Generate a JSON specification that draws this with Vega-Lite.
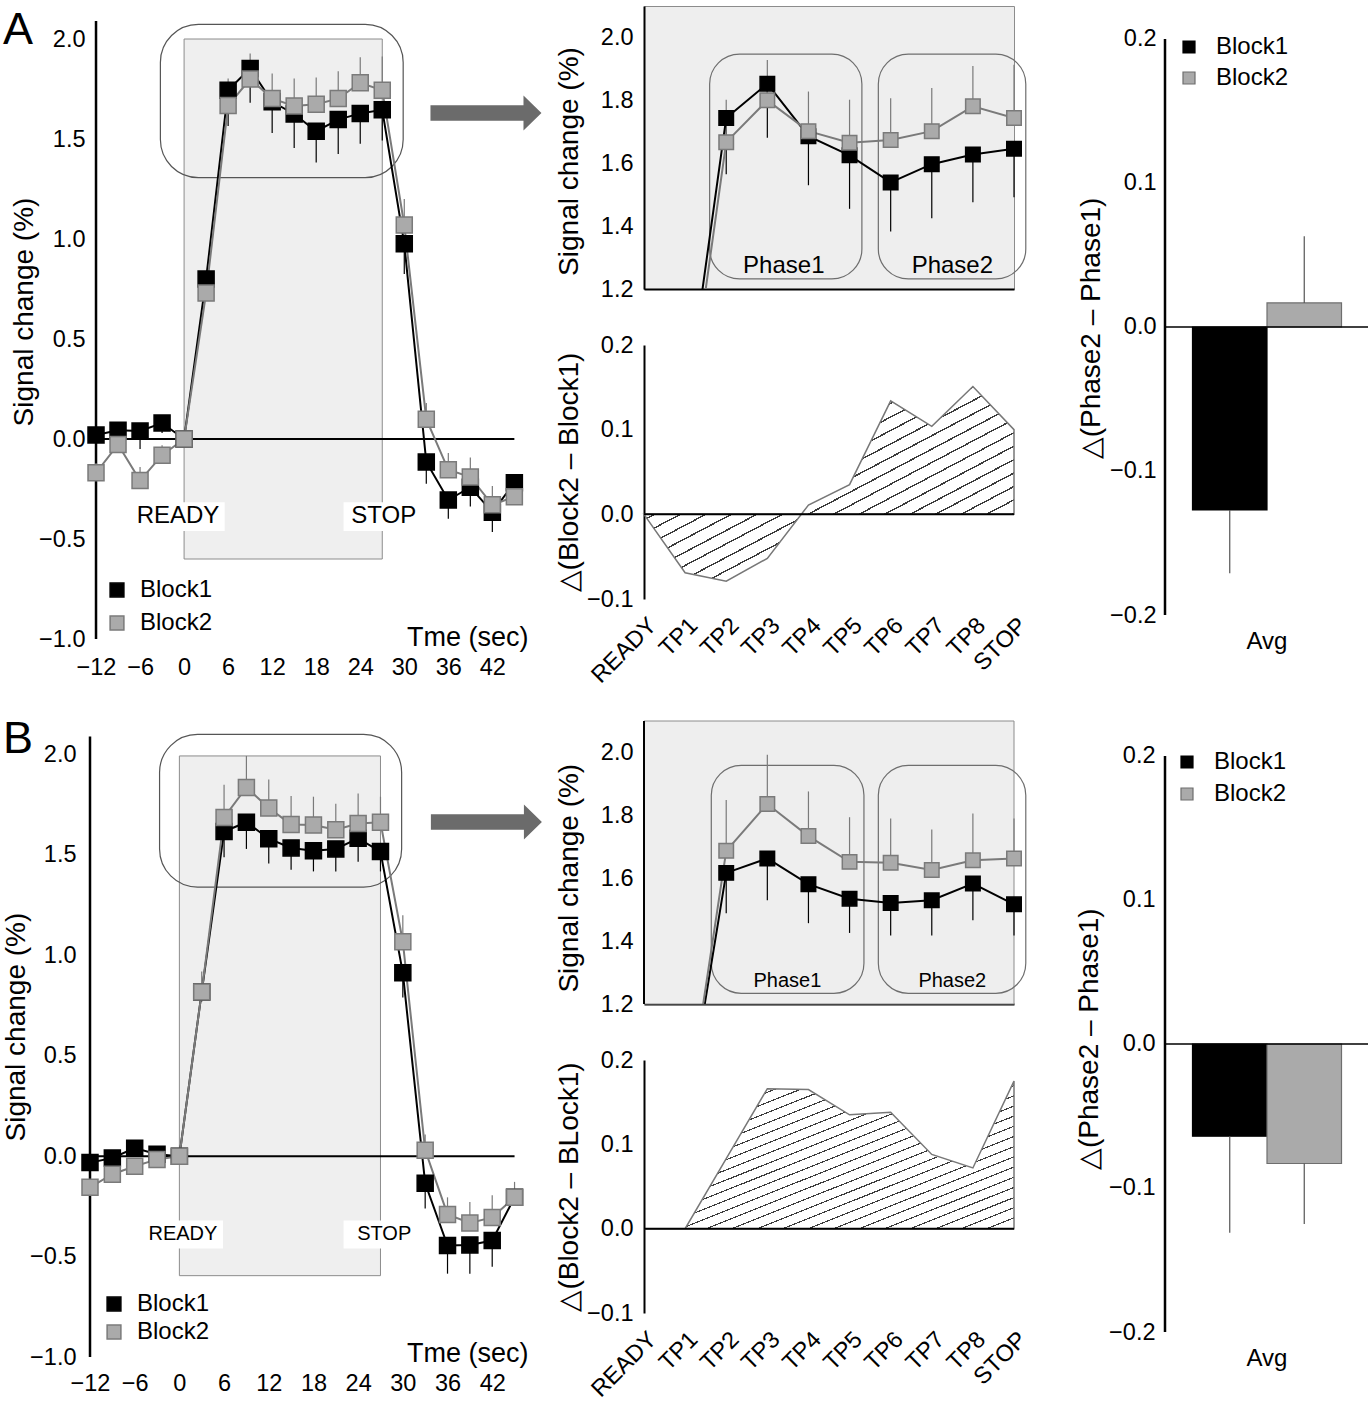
{
"$schema": "https://vega.github.io/schema/vega-lite/v6.json",
"padding": {"left": 2, "top": 5, "right": 0, "bottom": 0},
"autosize": {"type": "pad"},
"background": "white",
"spacing": 12,
"config": {
  "font": "Liberation Sans",
  "view": {"stroke": null},
  "axis": {"labelFont": "Liberation Sans", "titleFont": "Liberation Sans", "labelColor": "#000", "titleColor": "#000", "titleFontWeight": "normal", "labelFontSize": 23.5, "titleFontSize": 28, "grid": false, "ticks": false, "domain": false, "labelFlush": false, "labelOverlap": false},
  "legend": {"labelFont": "Liberation Sans", "labelColor": "#000", "labelFontSize": 24},
  "title": {"font": "Liberation Sans"},
  "text": {"font": "Liberation Sans"},
  "area": {"fill": {"gradient":"linear","x1":0,"y1":0,"x2":1,"y2":1,"stops":[
{"offset":0,"color":"#ffffff"},{"offset":0.0303,"color":"#ffffff"},{"offset":0.0303,"color":"#3c3c3c"},{"offset":0.0345,"color":"#3c3c3c"},
{"offset":0.0345,"color":"#ffffff"},{"offset":0.0648,"color":"#ffffff"},{"offset":0.0648,"color":"#3c3c3c"},{"offset":0.069,"color":"#3c3c3c"},
{"offset":0.069,"color":"#ffffff"},{"offset":0.0993,"color":"#ffffff"},{"offset":0.0993,"color":"#3c3c3c"},{"offset":0.1034,"color":"#3c3c3c"},
{"offset":0.1034,"color":"#ffffff"},{"offset":0.1338,"color":"#ffffff"},{"offset":0.1338,"color":"#3c3c3c"},{"offset":0.1379,"color":"#3c3c3c"},
{"offset":0.1379,"color":"#ffffff"},{"offset":0.1683,"color":"#ffffff"},{"offset":0.1683,"color":"#3c3c3c"},{"offset":0.1724,"color":"#3c3c3c"},
{"offset":0.1724,"color":"#ffffff"},{"offset":0.2028,"color":"#ffffff"},{"offset":0.2028,"color":"#3c3c3c"},{"offset":0.2069,"color":"#3c3c3c"},
{"offset":0.2069,"color":"#ffffff"},{"offset":0.2372,"color":"#ffffff"},{"offset":0.2372,"color":"#3c3c3c"},{"offset":0.2414,"color":"#3c3c3c"},
{"offset":0.2414,"color":"#ffffff"},{"offset":0.2717,"color":"#ffffff"},{"offset":0.2717,"color":"#3c3c3c"},{"offset":0.2759,"color":"#3c3c3c"},
{"offset":0.2759,"color":"#ffffff"},{"offset":0.3062,"color":"#ffffff"},{"offset":0.3062,"color":"#3c3c3c"},{"offset":0.3103,"color":"#3c3c3c"},
{"offset":0.3103,"color":"#ffffff"},{"offset":0.3407,"color":"#ffffff"},{"offset":0.3407,"color":"#3c3c3c"},{"offset":0.3448,"color":"#3c3c3c"},
{"offset":0.3448,"color":"#ffffff"},{"offset":0.3752,"color":"#ffffff"},{"offset":0.3752,"color":"#3c3c3c"},{"offset":0.3793,"color":"#3c3c3c"},
{"offset":0.3793,"color":"#ffffff"},{"offset":0.4097,"color":"#ffffff"},{"offset":0.4097,"color":"#3c3c3c"},{"offset":0.4138,"color":"#3c3c3c"},
{"offset":0.4138,"color":"#ffffff"},{"offset":0.4441,"color":"#ffffff"},{"offset":0.4441,"color":"#3c3c3c"},{"offset":0.4483,"color":"#3c3c3c"},
{"offset":0.4483,"color":"#ffffff"},{"offset":0.4786,"color":"#ffffff"},{"offset":0.4786,"color":"#3c3c3c"},{"offset":0.4828,"color":"#3c3c3c"},
{"offset":0.4828,"color":"#ffffff"},{"offset":0.5131,"color":"#ffffff"},{"offset":0.5131,"color":"#3c3c3c"},{"offset":0.5172,"color":"#3c3c3c"},
{"offset":0.5172,"color":"#ffffff"},{"offset":0.5476,"color":"#ffffff"},{"offset":0.5476,"color":"#3c3c3c"},{"offset":0.5517,"color":"#3c3c3c"},
{"offset":0.5517,"color":"#ffffff"},{"offset":0.5821,"color":"#ffffff"},{"offset":0.5821,"color":"#3c3c3c"},{"offset":0.5862,"color":"#3c3c3c"},
{"offset":0.5862,"color":"#ffffff"},{"offset":0.6166,"color":"#ffffff"},{"offset":0.6166,"color":"#3c3c3c"},{"offset":0.6207,"color":"#3c3c3c"},
{"offset":0.6207,"color":"#ffffff"},{"offset":0.651,"color":"#ffffff"},{"offset":0.651,"color":"#3c3c3c"},{"offset":0.6552,"color":"#3c3c3c"},
{"offset":0.6552,"color":"#ffffff"},{"offset":0.6855,"color":"#ffffff"},{"offset":0.6855,"color":"#3c3c3c"},{"offset":0.6897,"color":"#3c3c3c"},
{"offset":0.6897,"color":"#ffffff"},{"offset":0.72,"color":"#ffffff"},{"offset":0.72,"color":"#3c3c3c"},{"offset":0.7241,"color":"#3c3c3c"},
{"offset":0.7241,"color":"#ffffff"},{"offset":0.7545,"color":"#ffffff"},{"offset":0.7545,"color":"#3c3c3c"},{"offset":0.7586,"color":"#3c3c3c"},
{"offset":0.7586,"color":"#ffffff"},{"offset":0.789,"color":"#ffffff"},{"offset":0.789,"color":"#3c3c3c"},{"offset":0.7931,"color":"#3c3c3c"},
{"offset":0.7931,"color":"#ffffff"},{"offset":0.8234,"color":"#ffffff"},{"offset":0.8234,"color":"#3c3c3c"},{"offset":0.8276,"color":"#3c3c3c"},
{"offset":0.8276,"color":"#ffffff"},{"offset":0.8579,"color":"#ffffff"},{"offset":0.8579,"color":"#3c3c3c"},{"offset":0.8621,"color":"#3c3c3c"},
{"offset":0.8621,"color":"#ffffff"},{"offset":0.8924,"color":"#ffffff"},{"offset":0.8924,"color":"#3c3c3c"},{"offset":0.8966,"color":"#3c3c3c"},
{"offset":0.8966,"color":"#ffffff"},{"offset":0.9269,"color":"#ffffff"},{"offset":0.9269,"color":"#3c3c3c"},{"offset":0.931,"color":"#3c3c3c"},
{"offset":0.931,"color":"#ffffff"},{"offset":0.9614,"color":"#ffffff"},{"offset":0.9614,"color":"#3c3c3c"},{"offset":0.9655,"color":"#3c3c3c"},
{"offset":0.9655,"color":"#ffffff"},{"offset":0.9959,"color":"#ffffff"},{"offset":0.9959,"color":"#3c3c3c"},{"offset":1,"color":"#3c3c3c"}
]}}
},
"datasets": {
  "tsA": [
    {"block":"Block1","t":-12,"v":0.02,"e":-0.06},
    {"block":"Block1","t":-9,"v":0.044,"e":0.01},
    {"block":"Block1","t":-6,"v":0.04,"e":-0.05},
    {"block":"Block1","t":-3,"v":0.08,"e":0.03},
    {"block":"Block1","t":0,"v":0,"e":0},
    {"block":"Block1","t":3,"v":0.8,"e":0.76},
    {"block":"Block1","t":6,"v":1.744,"e":1.565},
    {"block":"Block1","t":9,"v":1.853,"e":1.681},
    {"block":"Block1","t":12,"v":1.686,"e":1.53},
    {"block":"Block1","t":15,"v":1.625,"e":1.455},
    {"block":"Block1","t":18,"v":1.539,"e":1.383},
    {"block":"Block1","t":21,"v":1.597,"e":1.425},
    {"block":"Block1","t":24,"v":1.628,"e":1.476},
    {"block":"Block1","t":27,"v":1.646,"e":1.492},
    {"block":"Block1","t":30,"v":0.976,"e":0.825},
    {"block":"Block1","t":33,"v":-0.115,"e":-0.224},
    {"block":"Block1","t":36,"v":-0.305,"e":-0.399},
    {"block":"Block1","t":39,"v":-0.241,"e":-0.338},
    {"block":"Block1","t":42,"v":-0.366,"e":-0.465},
    {"block":"Block1","t":45,"v":-0.219,"e":-0.245},
    {"block":"Block2","t":-12,"v":-0.169,"e":-0.12},
    {"block":"Block2","t":-9,"v":-0.027,"e":0.02},
    {"block":"Block2","t":-6,"v":-0.208,"e":-0.14},
    {"block":"Block2","t":-3,"v":-0.081,"e":-0.031},
    {"block":"Block2","t":0,"v":0,"e":0},
    {"block":"Block2","t":3,"v":0.73,"e":0.78},
    {"block":"Block2","t":6,"v":1.667,"e":1.802},
    {"block":"Block2","t":9,"v":1.8,"e":1.928},
    {"block":"Block2","t":12,"v":1.702,"e":1.828},
    {"block":"Block2","t":15,"v":1.665,"e":1.802},
    {"block":"Block2","t":18,"v":1.674,"e":1.807},
    {"block":"Block2","t":21,"v":1.702,"e":1.839},
    {"block":"Block2","t":24,"v":1.781,"e":1.909},
    {"block":"Block2","t":27,"v":1.744,"e":1.913},
    {"block":"Block2","t":30,"v":1.07,"e":1.2},
    {"block":"Block2","t":33,"v":0.099,"e":0.18},
    {"block":"Block2","t":36,"v":-0.154,"e":-0.07},
    {"block":"Block2","t":39,"v":-0.19,"e":-0.092},
    {"block":"Block2","t":42,"v":-0.329,"e":-0.235},
    {"block":"Block2","t":45,"v":-0.289,"e":-0.26}
  ],
  "tsB": [
    {"block":"Block1","t":-12,"v":-0.032,"e":-0.07},
    {"block":"Block1","t":-9,"v":-0.009,"e":-0.035},
    {"block":"Block1","t":-6,"v":0.04,"e":0.015},
    {"block":"Block1","t":-3,"v":0.01,"e":-0.02},
    {"block":"Block1","t":0,"v":0,"e":0},
    {"block":"Block1","t":3,"v":0.818,"e":0.77},
    {"block":"Block1","t":6,"v":1.617,"e":1.489},
    {"block":"Block1","t":9,"v":1.663,"e":1.53},
    {"block":"Block1","t":12,"v":1.581,"e":1.457},
    {"block":"Block1","t":15,"v":1.535,"e":1.426},
    {"block":"Block1","t":18,"v":1.521,"e":1.418},
    {"block":"Block1","t":21,"v":1.53,"e":1.418},
    {"block":"Block1","t":24,"v":1.583,"e":1.466},
    {"block":"Block1","t":27,"v":1.517,"e":1.418},
    {"block":"Block1","t":30,"v":0.913,"e":0.79},
    {"block":"Block1","t":33,"v":-0.135,"e":-0.26},
    {"block":"Block1","t":36,"v":-0.445,"e":-0.585},
    {"block":"Block1","t":39,"v":-0.442,"e":-0.585},
    {"block":"Block1","t":42,"v":-0.42,"e":-0.55},
    {"block":"Block1","t":45,"v":-0.205,"e":-0.23},
    {"block":"Block2","t":-12,"v":-0.155,"e":-0.12},
    {"block":"Block2","t":-9,"v":-0.09,"e":-0.06},
    {"block":"Block2","t":-6,"v":-0.05,"e":-0.02},
    {"block":"Block2","t":-3,"v":-0.016,"e":0.05},
    {"block":"Block2","t":0,"v":0,"e":0},
    {"block":"Block2","t":3,"v":0.818,"e":0.92},
    {"block":"Block2","t":6,"v":1.687,"e":1.849},
    {"block":"Block2","t":9,"v":1.836,"e":1.993},
    {"block":"Block2","t":12,"v":1.734,"e":1.876},
    {"block":"Block2","t":15,"v":1.652,"e":1.794},
    {"block":"Block2","t":18,"v":1.649,"e":1.79},
    {"block":"Block2","t":21,"v":1.626,"e":1.755},
    {"block":"Block2","t":24,"v":1.657,"e":1.806},
    {"block":"Block2","t":27,"v":1.663,"e":1.79},
    {"block":"Block2","t":30,"v":1.068,"e":1.2},
    {"block":"Block2","t":33,"v":0.03,"e":0.108},
    {"block":"Block2","t":36,"v":-0.29,"e":-0.205},
    {"block":"Block2","t":39,"v":-0.333,"e":-0.228},
    {"block":"Block2","t":42,"v":-0.305,"e":-0.194},
    {"block":"Block2","t":45,"v":-0.205,"e":-0.128}
  ],
  "diffA": [
    {"tp":"READY","d":0},{"tp":"TP1","d":-0.069},{"tp":"TP2","d":-0.079},{"tp":"TP3","d":-0.052},{"tp":"TP4","d":0.011},
    {"tp":"TP5","d":0.035},{"tp":"TP6","d":0.134},{"tp":"TP7","d":0.104},{"tp":"TP8","d":0.151},{"tp":"STOP","d":0.1}
  ],
  "diffB": [
    {"tp":"READY","d":0},{"tp":"TP1","d":0},{"tp":"TP2","d":0.083},{"tp":"TP3","d":0.166},{"tp":"TP4","d":0.165},
    {"tp":"TP5","d":0.135},{"tp":"TP6","d":0.138},{"tp":"TP7","d":0.088},{"tp":"TP8","d":0.072},{"tp":"STOP","d":0.175}
  ],
  "barA": [
    {"grp":"Avg","block":"Block1","v":-0.127,"e":-0.171},
    {"grp":"Avg","block":"Block2","v":0.0167,"e":0.063}
  ],
  "barB": [
    {"grp":"Avg","block":"Block1","v":-0.064,"e":-0.131},
    {"grp":"Avg","block":"Block2","v":-0.083,"e":-0.125}
  ]
},
"resolve": {"scale": {"fill": "independent", "stroke": "independent"}},
"hconcat": [
{
  "bounds": "flush",
  "spacing": 82,
  "resolve": {"scale": {"fill": "independent", "stroke": "independent"}},
  "vconcat": [
  {
    "width": 432, "height": 633,
    "data": {"name": "tsA"},
    "title": {"text": "A", "anchor": "start", "frame": "group", "fontSize": 45, "fontWeight": "normal", "color": "#000", "offset": -46.5, "dx": -87, "baseline": "top"},
    "layer": [
      {"data": {"values": [{}]}, "mark": {"type": "rect", "fill": "#efefef", "stroke": "#8c8c8c", "strokeWidth": 1},
       "encoding": {"x": {"datum": 0}, "x2": {"datum": 27}, "y": {"datum": -0.6}, "y2": {"datum": 2.0}}},
      {"data": {"values": [{}]}, "mark": {"type": "rect", "fill": "#ffffff", "fillOpacity": 0, "stroke": "#555555", "strokeWidth": 1.2, "cornerRadius": 38},
       "encoding": {"x": {"datum": -3.23}, "x2": {"datum": 29.85}, "y": {"datum": 1.307}, "y2": {"datum": 2.073}}},
      {"data": {"values": [{}]}, "mark": {"type": "rect", "fill": "#ffffff"},
       "encoding": {"x": {"datum": -6.88}, "x2": {"datum": 5.53}, "y": {"datum": -0.46}, "y2": {"datum": -0.316}}},
      {"data": {"values": [{}]}, "mark": {"type": "rect", "fill": "#ffffff"},
       "encoding": {"x": {"datum": 21.73}, "x2": {"datum": 32.05}, "y": {"datum": -0.46}, "y2": {"datum": -0.316}}},
      {"data": {"values": [{}]}, "mark": {"type": "text", "fontSize": 24, "align": "center", "baseline": "middle", "color": "#000"},
       "encoding": {"x": {"datum": -0.83}, "y": {"datum": -0.385}, "text": {"value": "READY"}}},
      {"data": {"values": [{}]}, "mark": {"type": "text", "fontSize": 24, "align": "center", "baseline": "middle", "color": "#000"},
       "encoding": {"x": {"datum": 27.2}, "y": {"datum": -0.385}, "text": {"value": "STOP"}}},
      {"data": {"values": [{}]}, "mark": {"type": "rule", "color": "#000", "strokeWidth": 2},
       "encoding": {"x": {"datum": -12}, "x2": {"datum": 45}, "y": {"datum": 0}}},
      {"data": {"values": [{}]}, "mark": {"type": "rule", "color": "#000", "strokeWidth": 2.5},
       "encoding": {"x": {"datum": -12}, "y": {"datum": -1}, "y2": {"datum": 2.09}}},
      {"transform": [{"filter": "datum.block === 'Block1'"}], "mark": {"type": "rule", "strokeWidth": 1.2, "color": "#000000"},
       "encoding": {"x": {"field": "t", "type": "quantitative"}, "y": {"field": "v", "type": "quantitative"}, "y2": {"field": "e"}}},
      {"transform": [{"filter": "datum.block === 'Block2'"}], "mark": {"type": "rule", "strokeWidth": 1.2, "color": "#7a7a7a"},
       "encoding": {"x": {"field": "t", "type": "quantitative"}, "y": {"field": "v", "type": "quantitative"}, "y2": {"field": "e"}}},
      {"transform": [{"filter": "datum.block === 'Block1'"}], "mark": {"type": "line", "strokeWidth": 2, "color": "#000000"},
       "encoding": {
         "x": {"field": "t", "type": "quantitative", "scale": {"domain": [-12.82, 46.04], "nice": false, "zero": false},
               "axis": {"values": [-12,-6,0,6,12,18,24,30,36,42], "labelPadding": 16, "title": "Tme (sec)", "titleFontSize": 27, "titleX": 438, "titleY": 6, "titleAlign": "right", "titleBaseline": "alphabetic"}},
         "y": {"field": "v", "type": "quantitative", "scale": {"domain": [-1, 2.165], "nice": false, "zero": false},
               "axis": {"values": [-1,-0.5,0,0.5,1,1.5,2], "format": ".1f", "labelPadding": 5, "title": "Signal change (%)", "titlePadding": 0, "titleY": 305.5}}}},
      {"transform": [{"filter": "datum.block === 'Block2'"}], "mark": {"type": "line", "strokeWidth": 2, "color": "#7a7a7a"},
       "encoding": {"x": {"field": "t", "type": "quantitative"}, "y": {"field": "v", "type": "quantitative"}}},
      {"mark": {"type": "point", "shape": "square", "filled": true, "size": 256, "strokeWidth": 1.5, "opacity": 1},
       "encoding": {
         "x": {"field": "t", "type": "quantitative"},
         "y": {"field": "v", "type": "quantitative"},
         "fill": {"field": "block", "type": "nominal", "scale": {"domain": ["Block1","Block2"], "range": ["#000000","#aaaaaa"]},
                  "legend": {"orient": "none", "legendX": 15, "legendY": 572, "title": null, "labelFontSize": 24, "symbolSize": 190, "symbolType": "square", "rowPadding": 9, "labelOffset": 11, "padding": 0, "symbolStrokeWidth": 1.5}},
         "stroke": {"field": "block", "type": "nominal", "scale": {"domain": ["Block1","Block2"], "range": ["#000000","#7a7a7a"]},
                  "legend": {"orient": "none", "legendX": 15, "legendY": 572, "title": null, "labelFontSize": 24, "symbolSize": 190, "symbolType": "square", "rowPadding": 9, "labelOffset": 11, "padding": 0, "symbolStrokeWidth": 1.5}}}},
      {"data": {"values": [{}]}, "mark": {"type": "point", "shape": "M -1 -0.14 L 0.676 -0.14 L 0.676 -0.315 L 1 0 L 0.676 0.315 L 0.676 0.14 L -1 0.14 Z", "filled": true, "fill": "#6b6b6b", "strokeWidth": 0, "size": 12321, "opacity": 1},
       "encoding": {"x": {"datum": 41.13}, "y": {"datum": 1.63}}}
    ]
  },
  {
    "width": 432, "height": 636,
    "data": {"name": "tsB"},
    "title": {"text": "B", "anchor": "start", "frame": "group", "fontSize": 45, "fontWeight": "normal", "color": "#000", "offset": -41, "dx": -87, "baseline": "top"},
    "layer": [
      {"data": {"values": [{}]}, "mark": {"type": "rect", "fill": "#efefef", "stroke": "#8c8c8c", "strokeWidth": 1},
       "encoding": {"x": {"datum": 0}, "x2": {"datum": 27}, "y": {"datum": -0.595}, "y2": {"datum": 1.993}}},
      {"data": {"values": [{}]}, "mark": {"type": "rect", "fill": "#ffffff", "fillOpacity": 0, "stroke": "#555555", "strokeWidth": 1.2, "cornerRadius": 38},
       "encoding": {"x": {"datum": -2.66}, "x2": {"datum": 29.84}, "y": {"datum": 1.34}, "y2": {"datum": 2.1}}},
      {"data": {"values": [{}]}, "mark": {"type": "rect", "fill": "#ffffff"},
       "encoding": {"x": {"datum": -4.75}, "x2": {"datum": 5.85}, "y": {"datum": -0.46}, "y2": {"datum": -0.32}}},
      {"data": {"values": [{}]}, "mark": {"type": "rect", "fill": "#ffffff"},
       "encoding": {"x": {"datum": 22.04}, "x2": {"datum": 31.3}, "y": {"datum": -0.46}, "y2": {"datum": -0.32}}},
      {"data": {"values": [{}]}, "mark": {"type": "text", "fontSize": 20, "align": "center", "baseline": "middle", "color": "#000"},
       "encoding": {"x": {"datum": 0.48}, "y": {"datum": -0.387}, "text": {"value": "READY"}}},
      {"data": {"values": [{}]}, "mark": {"type": "text", "fontSize": 20, "align": "center", "baseline": "middle", "color": "#000"},
       "encoding": {"x": {"datum": 27.5}, "y": {"datum": -0.387}, "text": {"value": "STOP"}}},
      {"data": {"values": [{}]}, "mark": {"type": "rule", "color": "#000", "strokeWidth": 2},
       "encoding": {"x": {"datum": -12}, "x2": {"datum": 45}, "y": {"datum": 0}}},
      {"data": {"values": [{}]}, "mark": {"type": "rule", "color": "#000", "strokeWidth": 2.5},
       "encoding": {"x": {"datum": -12}, "y": {"datum": -1}, "y2": {"datum": 2.09}}},
      {"transform": [{"filter": "datum.block === 'Block1'"}], "mark": {"type": "rule", "strokeWidth": 1.2, "color": "#000000"},
       "encoding": {"x": {"field": "t", "type": "quantitative"}, "y": {"field": "v", "type": "quantitative"}, "y2": {"field": "e"}}},
      {"transform": [{"filter": "datum.block === 'Block2'"}], "mark": {"type": "rule", "strokeWidth": 1.2, "color": "#7a7a7a"},
       "encoding": {"x": {"field": "t", "type": "quantitative"}, "y": {"field": "v", "type": "quantitative"}, "y2": {"field": "e"}}},
      {"transform": [{"filter": "datum.block === 'Block1'"}], "mark": {"type": "line", "strokeWidth": 2, "color": "#000000"},
       "encoding": {
         "x": {"field": "t", "type": "quantitative", "scale": {"domain": [-12, 46], "nice": false, "zero": false},
               "axis": {"values": [-12,-6,0,6,12,18,24,30,36,42], "labelPadding": 14, "title": "Tme (sec)", "titleFontSize": 27, "titleX": 438, "titleY": 4.5, "titleAlign": "right", "titleBaseline": "alphabetic"}},
         "y": {"field": "v", "type": "quantitative", "scale": {"domain": [-1, 2.167], "nice": false, "zero": false},
               "axis": {"values": [-1,-0.5,0,0.5,1,1.5,2], "format": ".1f", "labelPadding": 14, "title": "Signal change (%)", "titlePadding": -1, "titleY": 305.6}}}},
      {"transform": [{"filter": "datum.block === 'Block2'"}], "mark": {"type": "line", "strokeWidth": 2, "color": "#7a7a7a"},
       "encoding": {"x": {"field": "t", "type": "quantitative"}, "y": {"field": "v", "type": "quantitative"}}},
      {"mark": {"type": "point", "shape": "square", "filled": true, "size": 256, "strokeWidth": 1.5, "opacity": 1},
       "encoding": {
         "x": {"field": "t", "type": "quantitative"},
         "y": {"field": "v", "type": "quantitative"},
         "fill": {"field": "block", "type": "nominal", "scale": {"domain": ["Block1","Block2"], "range": ["#000000","#aaaaaa"]},
                  "legend": {"orient": "none", "legendX": 12, "legendY": 571, "title": null, "labelFontSize": 24, "symbolSize": 190, "symbolType": "square", "rowPadding": 4, "labelOffset": 11, "padding": 0, "symbolStrokeWidth": 1.5}},
         "stroke": {"field": "block", "type": "nominal", "scale": {"domain": ["Block1","Block2"], "range": ["#000000","#7a7a7a"]},
                  "legend": {"orient": "none", "legendX": 12, "legendY": 571, "title": null, "labelFontSize": 24, "symbolSize": 190, "symbolType": "square", "rowPadding": 4, "labelOffset": 11, "padding": 0, "symbolStrokeWidth": 1.5}}}},
      {"data": {"values": [{}]}, "mark": {"type": "point", "shape": "M -1 -0.14 L 0.676 -0.14 L 0.676 -0.315 L 1 0 L 0.676 0.315 L 0.676 0.14 L -1 0.14 Z", "filled": true, "fill": "#6b6b6b", "strokeWidth": 0, "size": 12321, "opacity": 1},
       "encoding": {"x": {"datum": 41.22}, "y": {"datum": 1.664}}}
    ]
  }
  ]
},
{
  "spacing": 44,
  "resolve": {"scale": {"fill": "independent", "stroke": "independent"}},
  "hconcat": [
  {
    "bounds": "flush",
    "spacing": 56,
    "resolve": {"scale": {"fill": "independent", "stroke": "independent"}},
    "vconcat": [
    {
      "width": 370, "height": 283,
      "data": {"name": "tsA"},
      "view": {"fill": "#eeeeee", "stroke": "#8c8c8c", "strokeWidth": 1},
      "layer": [
        {"data": {"values": [{}]}, "mark": {"type": "rect", "fill": "#ffffff", "fillOpacity": 0, "stroke": "#6e6e6e", "strokeWidth": 1.2, "cornerRadius": 30},
         "encoding": {"x": {"datum": 4.79}, "x2": {"datum": 15.9}, "y": {"datum": 1.232}, "y2": {"datum": 1.947}}},
        {"data": {"values": [{}]}, "mark": {"type": "rect", "fill": "#ffffff", "fillOpacity": 0, "stroke": "#6e6e6e", "strokeWidth": 1.2, "cornerRadius": 30},
         "encoding": {"x": {"datum": 17.1}, "x2": {"datum": 27.86}, "y": {"datum": 1.232}, "y2": {"datum": 1.947}}},
        {"data": {"values": [{}]}, "mark": {"type": "text", "fontSize": 24, "align": "center", "baseline": "middle", "color": "#000"},
         "encoding": {"x": {"datum": 10.2}, "y": {"datum": 1.274}, "text": {"value": "Phase1"}}},
        {"data": {"values": [{}]}, "mark": {"type": "text", "fontSize": 24, "align": "center", "baseline": "middle", "color": "#000"},
         "encoding": {"x": {"datum": 22.5}, "y": {"datum": 1.274}, "text": {"value": "Phase2"}}},
        {"transform": [{"filter": "datum.t >= 6 && datum.t <= 27"}],
         "mark": {"type": "rule", "strokeWidth": 1.2},
         "encoding": {"x": {"field": "t", "type": "quantitative"}, "y": {"field": "v", "type": "quantitative"}, "y2": {"field": "e"},
                      "stroke": {"field": "block", "type": "nominal", "legend": null}}},
        {"transform": [{"filter": "datum.t >= 3 && datum.t <= 27"}],
         "mark": {"type": "line", "strokeWidth": 2, "clip": true},
         "encoding": {
           "x": {"field": "t", "type": "quantitative", "scale": {"domain": [0, 27], "nice": false, "zero": false},
                 "axis": {"domain": true, "domainColor": "#000", "domainWidth": 2, "labels": false, "title": null}},
           "y": {"field": "v", "type": "quantitative", "scale": {"domain": [1.2, 2.1], "nice": false, "zero": false},
                 "axis": {"values": [1.2,1.4,1.6,1.8,2.0], "format": ".1f", "domain": true, "domainColor": "#000", "domainWidth": 2, "labelPadding": 11, "title": "Signal change (%)", "titlePadding": 17, "titleY": 155}},
           "stroke": {"field": "block", "type": "nominal", "legend": null}}},
        {"transform": [{"filter": "datum.t >= 6 && datum.t <= 27"}],
         "mark": {"type": "point", "shape": "square", "filled": true, "size": 210, "strokeWidth": 1.5, "opacity": 1},
         "encoding": {
           "x": {"field": "t", "type": "quantitative"},
           "y": {"field": "v", "type": "quantitative"},
           "fill": {"field": "block", "type": "nominal", "scale": {"domain": ["Block1","Block2"], "range": ["#000000","#aaaaaa"]}, "legend": null},
           "stroke": {"field": "block", "type": "nominal", "scale": {"domain": ["Block1","Block2"], "range": ["#000000","#7a7a7a"]}, "legend": null}}}
      ]
    },
    {
      "width": 370, "height": 254,
      "data": {"name": "diffA"},
      "layer": [
        {"mark": {"type": "area", "stroke": "#777777", "strokeWidth": 1.5},
         "encoding": {
           "x": {"field": "tp", "type": "ordinal", "sort": ["READY","TP1","TP2","TP3","TP4","TP5","TP6","TP7","TP8","STOP"], "scale": {"type": "point", "padding": 0},
                 "axis": {"labelAngle": -45, "labelAlign": "right", "labelBaseline": "top", "labelPadding": 14, "title": null}},
           "y": {"field": "d", "type": "quantitative", "scale": {"domain": [-0.1, 0.2], "nice": false, "zero": false},
                 "axis": {"values": [-0.1, 0, 0.1, 0.2], "format": ".1f", "domain": true, "domainColor": "#000", "domainWidth": 2, "labelPadding": 11, "title": "△(Block2 – Block1)", "titlePadding": 3}}}},
        {"data": {"values": [{}]}, "mark": {"type": "rule", "color": "#000", "strokeWidth": 2},
         "encoding": {"y": {"datum": 0}}}
      ]
    },
    {
      "width": 370, "height": 349,
      "data": {"name": "tsB"},
      "layer": [
        {"data": {"values": [{}]}, "mark": {"type": "rect", "fill": "#eeeeee", "stroke": "#8c8c8c", "strokeWidth": 1},
         "encoding": {"x": {"datum": 0}, "x2": {"datum": 27}, "y": {"datum": 1.2}, "y2": {"datum": 2.1}}},
        {"data": {"values": [{}]}, "mark": {"type": "rule", "color": "#000", "strokeWidth": 2},
         "encoding": {"x": {"datum": 0}, "y": {"datum": 1.2}, "y2": {"datum": 2.1}}},
        {"data": {"values": [{}]}, "mark": {"type": "rect", "fill": "#ffffff", "fillOpacity": 0, "stroke": "#6e6e6e", "strokeWidth": 1.2, "cornerRadius": 30},
         "encoding": {"x": {"datum": 4.91}, "x2": {"datum": 16.05}, "y": {"datum": 1.234}, "y2": {"datum": 1.959}}},
        {"data": {"values": [{}]}, "mark": {"type": "rect", "fill": "#ffffff", "fillOpacity": 0, "stroke": "#6e6e6e", "strokeWidth": 1.2, "cornerRadius": 30},
         "encoding": {"x": {"datum": 17.1}, "x2": {"datum": 27.86}, "y": {"datum": 1.234}, "y2": {"datum": 1.959}}},
        {"data": {"values": [{}]}, "mark": {"type": "text", "fontSize": 20, "align": "center", "baseline": "middle", "color": "#000"},
         "encoding": {"x": {"datum": 10.46}, "y": {"datum": 1.274}, "text": {"value": "Phase1"}}},
        {"data": {"values": [{}]}, "mark": {"type": "text", "fontSize": 20, "align": "center", "baseline": "middle", "color": "#000"},
         "encoding": {"x": {"datum": 22.5}, "y": {"datum": 1.274}, "text": {"value": "Phase2"}}},
        {"transform": [{"filter": "datum.t >= 6 && datum.t <= 27"}],
         "mark": {"type": "rule", "strokeWidth": 1.2},
         "encoding": {"x": {"field": "t", "type": "quantitative"}, "y": {"field": "v", "type": "quantitative"}, "y2": {"field": "e"},
                      "stroke": {"field": "block", "type": "nominal", "legend": null}}},
        {"transform": [{"filter": "datum.t >= 3 && datum.t <= 27"}],
         "mark": {"type": "line", "strokeWidth": 2, "clip": true},
         "encoding": {
           "x": {"field": "t", "type": "quantitative", "scale": {"domain": [0, 27], "nice": false, "zero": false},
                 "axis": {"domain": true, "domainColor": "#000", "domainWidth": 2, "labels": false, "title": null}},
           "y": {"field": "v", "type": "quantitative", "scale": {"domain": [1.2, 2.3099], "nice": false, "zero": false},
                 "axis": {"values": [1.2,1.4,1.6,1.8,2.0], "format": ".1f", "labelPadding": 11, "title": "Signal change (%)", "titlePadding": 17, "titleY": 222.7}},
           "stroke": {"field": "block", "type": "nominal", "legend": null}}},
        {"transform": [{"filter": "datum.t >= 6 && datum.t <= 27"}],
         "mark": {"type": "point", "shape": "square", "filled": true, "size": 210, "strokeWidth": 1.5, "opacity": 1},
         "encoding": {
           "x": {"field": "t", "type": "quantitative"},
           "y": {"field": "v", "type": "quantitative"},
           "fill": {"field": "block", "type": "nominal", "scale": {"domain": ["Block1","Block2"], "range": ["#000000","#aaaaaa"]}, "legend": null},
           "stroke": {"field": "block", "type": "nominal", "scale": {"domain": ["Block1","Block2"], "range": ["#000000","#7a7a7a"]}, "legend": null}}}
      ]
    },
    {
      "width": 370, "height": 253,
      "data": {"name": "diffB"},
      "layer": [
        {"mark": {"type": "area", "stroke": "#777777", "strokeWidth": 1.5},
         "encoding": {
           "x": {"field": "tp", "type": "ordinal", "sort": ["READY","TP1","TP2","TP3","TP4","TP5","TP6","TP7","TP8","STOP"], "scale": {"type": "point", "padding": 0},
                 "axis": {"labelAngle": -45, "labelAlign": "right", "labelBaseline": "top", "labelPadding": 14, "title": null}},
           "y": {"field": "d", "type": "quantitative", "scale": {"domain": [-0.1, 0.2], "nice": false, "zero": false},
                 "axis": {"values": [-0.1, 0, 0.1, 0.2], "format": ".1f", "domain": true, "domainColor": "#000", "domainWidth": 2, "labelPadding": 11, "title": "△(Block2 – BLock1)", "titlePadding": 3}}}},
        {"data": {"values": [{}]}, "mark": {"type": "rule", "color": "#000", "strokeWidth": 2},
         "encoding": {"y": {"datum": 0}}}
      ]
    }
    ]
  },
  {
    "bounds": "flush",
    "spacing": 106,
    "resolve": {"scale": {"fill": "independent", "stroke": "independent"}},
    "vconcat": [
    {
      "width": 204, "height": 609,
      "data": {"name": "barA"},
      "layer": [
        {"mark": {"type": "bar", "strokeWidth": 1.2},
         "encoding": {
           "x": {"field": "grp", "type": "nominal", "scale": {"paddingInner": 0, "paddingOuter": 0},
                 "axis": {"labelAngle": 0, "labelPadding": 14, "labelFontSize": 24, "title": null}},
           "xOffset": {"field": "block", "type": "nominal", "scale": {"paddingInner": 0, "paddingOuter": 0.369}},
           "y": {"field": "v", "type": "quantitative", "scale": {"domain": [-0.2, 0.2229], "nice": false},
                 "axis": {"values": [-0.2,-0.1,0,0.1,0.2], "format": ".1f", "labelPadding": 9, "title": "△(Phase2 – Phase1)", "titlePadding": 4, "titleY": 322}},
           "fill": {"field": "block", "type": "nominal", "scale": {"domain": ["Block1","Block2"], "range": ["#000000","#aaaaaa"]},
                    "legend": {"orient": "none", "legendX": 12, "legendY": 29, "title": null, "labelFontSize": 24, "symbolSize": 144, "symbolType": "square", "rowPadding": 7, "labelOffset": 15, "padding": 0, "symbolStrokeWidth": 1.2}},
           "stroke": {"field": "block", "type": "nominal", "scale": {"domain": ["Block1","Block2"], "range": ["#000000","#6e6e6e"]},
                    "legend": {"orient": "none", "legendX": 12, "legendY": 29, "title": null, "labelFontSize": 24, "symbolSize": 144, "symbolType": "square", "rowPadding": 7, "labelOffset": 15, "padding": 0, "symbolStrokeWidth": 1.2}}}},
        {"mark": {"type": "rule", "color": "#555555", "strokeWidth": 1.2},
         "encoding": {"x": {"field": "grp", "type": "nominal"}, "xOffset": {"field": "block", "type": "nominal"},
                      "y": {"field": "v", "type": "quantitative"}, "y2": {"field": "e"}}},
        {"data": {"values": [{}]}, "mark": {"type": "rule", "color": "#000", "strokeWidth": 1.5},
         "encoding": {"y": {"datum": 0}}},
        {"data": {"values": [{}]}, "mark": {"type": "rule", "color": "#000", "strokeWidth": 2.5},
         "encoding": {"x": {"datum": "Avg", "type": "nominal", "bandPosition": 0}, "y": {"datum": -0.2}, "y2": {"datum": 0.2}}}
      ]
    },
    {
      "width": 204, "height": 611,
      "data": {"name": "barB"},
      "layer": [
        {"mark": {"type": "bar", "strokeWidth": 1.2},
         "encoding": {
           "x": {"field": "grp", "type": "nominal", "scale": {"paddingInner": 0, "paddingOuter": 0},
                 "axis": {"labelAngle": 0, "labelPadding": 14, "labelFontSize": 24, "title": null}},
           "xOffset": {"field": "block", "type": "nominal", "scale": {"paddingInner": 0, "paddingOuter": 0.385}},
           "y": {"field": "v", "type": "quantitative", "scale": {"domain": [-0.2, 0.2243], "nice": false},
                 "axis": {"values": [-0.2,-0.1,0,0.1,0.2], "format": ".1f", "labelPadding": 10, "title": "△(Phase2 – Phase1)", "titlePadding": 5, "titleY": 317.7}},
           "fill": {"field": "block", "type": "nominal", "scale": {"domain": ["Block1","Block2"], "range": ["#000000","#aaaaaa"]},
                    "legend": {"orient": "none", "legendX": 10, "legendY": 29, "title": null, "labelFontSize": 24, "symbolSize": 144, "symbolType": "square", "rowPadding": 8, "labelOffset": 15, "padding": 0, "symbolStrokeWidth": 1.2}},
           "stroke": {"field": "block", "type": "nominal", "scale": {"domain": ["Block1","Block2"], "range": ["#000000","#6e6e6e"]},
                    "legend": {"orient": "none", "legendX": 10, "legendY": 29, "title": null, "labelFontSize": 24, "symbolSize": 144, "symbolType": "square", "rowPadding": 8, "labelOffset": 15, "padding": 0, "symbolStrokeWidth": 1.2}}}},
        {"mark": {"type": "rule", "color": "#555555", "strokeWidth": 1.2},
         "encoding": {"x": {"field": "grp", "type": "nominal"}, "xOffset": {"field": "block", "type": "nominal"},
                      "y": {"field": "v", "type": "quantitative"}, "y2": {"field": "e"}}},
        {"data": {"values": [{}]}, "mark": {"type": "rule", "color": "#000", "strokeWidth": 1.5},
         "encoding": {"y": {"datum": 0}}},
        {"data": {"values": [{}]}, "mark": {"type": "rule", "color": "#000", "strokeWidth": 2.5},
         "encoding": {"x": {"datum": "Avg", "type": "nominal", "bandPosition": 0}, "y": {"datum": -0.2}, "y2": {"datum": 0.2}}}
      ]
    }
    ]
  }
  ]
}
]
}
